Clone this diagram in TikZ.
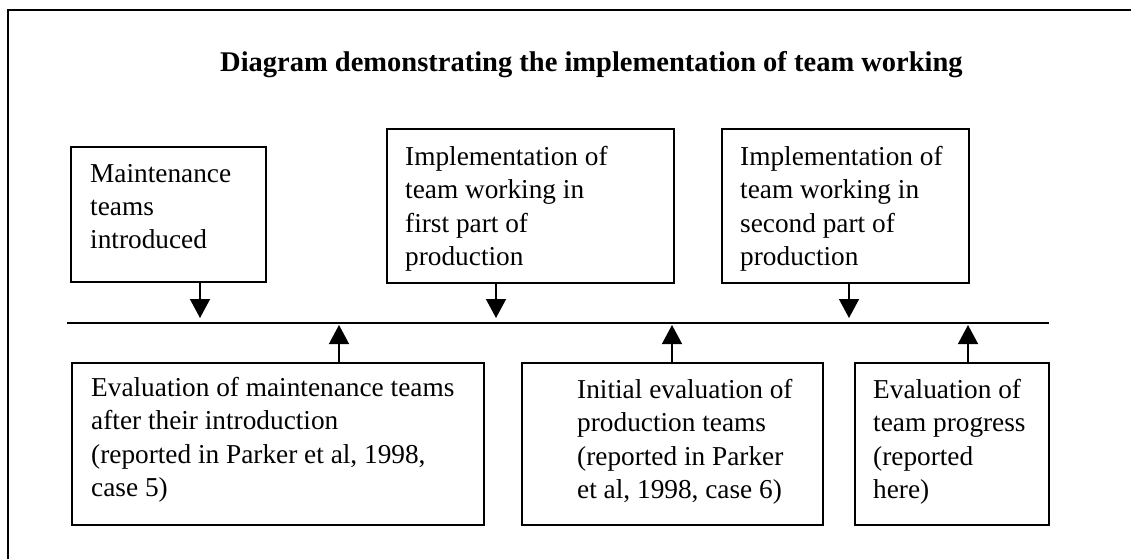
\documentclass[tikz,border=0pt]{standalone}
\usepackage{fontspec}
\setmainfont{Liberation Serif}
\usetikzlibrary{arrows.meta}
\tikzset{
  box/.style={draw=black, line width=1.6pt, rectangle, inner sep=0pt, anchor=north west},
  txt/.style={inner sep=0pt, anchor=north west, align=left, font=\fontsize{27.3}{33.3}\selectfont},
  ttl/.style={inner sep=0pt, anchor=base west, font=\bfseries\fontsize{28.5}{33}\selectfont},
  arr/.style={line width=1.4pt, -{Triangle[width=20pt,length=19pt]}},
  tline/.style={line width=1.8pt},
  frame/.style={line width=1.8pt}
}
\begin{document}
\begin{tikzpicture}[x=1pt,y=-1pt]
\useasboundingbox (0,0) rectangle (1131,559);
% outer frame (extends beyond right and bottom edges)
\coordinate (f0) at (8,559);
\coordinate (f1) at (8,10);
\coordinate (f2) at (1131,10);
\draw[frame] (f0) -- (f1) -- (f2);
% title
\node[ttl] (title) at (220,72) {Diagram demonstrating the implementation of team working};
% top boxes
\node[box, minimum width=195pt, minimum height=135pt] (b1) at (70,146) {};
\node[box, minimum width=287pt, minimum height=154pt] (b2) at (386,128) {};
\node[box, minimum width=247pt, minimum height=154pt] (b3) at (721,128) {};
\node[txt] (t1) at (90,164) {Maintenance\\teams\\introduced};
\node[txt] (t2) at (405,146) {Implementation of\\team working in\\first part of\\production};
\node[txt] (t3) at (740,146) {Implementation of\\team working in\\second part of\\production};
% bottom boxes
\node[box, minimum width=412pt, minimum height=162pt] (b4) at (71,362) {};
\node[box, minimum width=301pt, minimum height=162pt] (b5) at (521,362) {};
\node[box, minimum width=194pt, minimum height=162pt] (b6) at (854,362) {};
\node[txt] (t4) at (91,377) {Evaluation of maintenance teams\\after their introduction\\(reported in Parker et al, 1998,\\case 5)};
\node[txt] (t5) at (577,379) {Initial evaluation of\\production teams\\(reported in Parker\\et al, 1998, case 6)};
\node[txt] (t6) at (873,379) {Evaluation of\\team progress\\(reported\\here)};
% time line
\coordinate (L0) at (67,323);
\coordinate (L1) at (1049,323);
\draw[tline] (L0) -- (L1);
% down arrows
\coordinate (d1) at (200,318);
\coordinate (d2) at (496,318);
\coordinate (d3) at (849,318);
\draw[arr] (b1.south -| d1) -- (d1);
\draw[arr] (b2.south -| d2) -- (d2);
\draw[arr] (b3.south -| d3) -- (d3);
% up arrows
\coordinate (u1) at (339,325);
\coordinate (u2) at (672,325);
\coordinate (u3) at (968,325);
\draw[arr] (b4.north -| u1) -- (u1);
\draw[arr] (b5.north -| u2) -- (u2);
\draw[arr] (b6.north -| u3) -- (u3);
\end{tikzpicture}
\end{document}
